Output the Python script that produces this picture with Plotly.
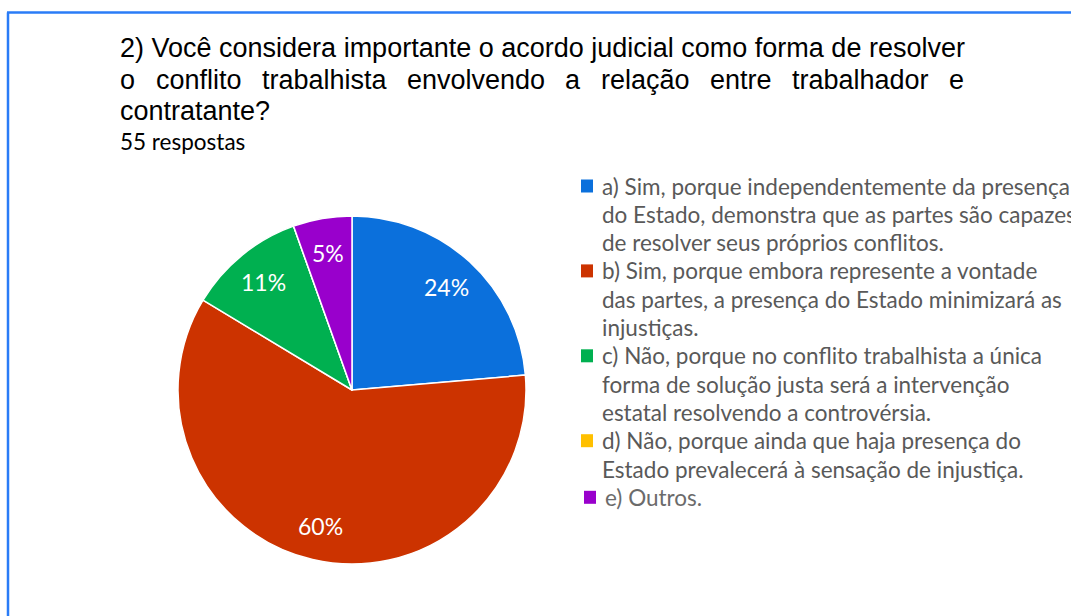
import math
import plotly.graph_objects as go

# ---------------- data ----------------
categories = [
    "a) Sim, porque independentemente da presença do Estado, demonstra que as partes são capazes de resolver seus próprios conflitos.",
    "b) Sim, porque embora represente a vontade das partes, a presença do Estado minimizará as injustiças.",
    "c) Não, porque no conflito trabalhista a única forma de solução justa será a intervenção estatal resolvendo a controvérsia.",
    "d) Não, porque ainda que haja presença do Estado prevalecerá à sensação de injustiça.",
    "e) Outros.",
]
legend_lines = [
    ["a) Sim, porque independentemente da presença", "do Estado, demonstra que as partes são capazes", "de resolver seus próprios conflitos."],
    ["b) Sim, porque embora represente a vontade", "das partes, a presença do Estado minimizará as", "injustiças."],
    ["c) Não, porque no conflito trabalhista a única", "forma de solução justa será a intervenção", "estatal resolvendo a controvérsia."],
    ["d) Não, porque ainda que haja presença do", "Estado prevalecerá à sensação de injustiça."],
    ["e) Outros."],
]
counts = [13, 33, 6, 0, 3]
colors = ["#0b70dc", "#cc3300", "#00b050", "#ffc000", "#9900cc"]
title_lines = [
    "2) Você considera importante o acordo judicial como forma de resolver",
    "o conflito trabalhista envolvendo a relação entre trabalhador e",
    "contratante?",
]
subtitle = "55 respostas"

# ---------------- layout helpers ----------------
W, H = 1071, 616
def px(x):
    return x / W
def py(y):
    return 1 - y / H

TITLE_FONT = "Liberation Sans, Arial, sans-serif"
TITLE_SIZE = 27
BODY_FONT = "Lato, Open Sans, sans-serif"

# Arial advance widths (per 1000 em) for justified line
AW = {"a": 556, "b": 556, "c": 500, "d": 556, "e": 556, "f": 278, "h": 556,
      "i": 222, "l": 222, "n": 556, "o": 556, "r": 333, "s": 500, "t": 278,
      "v": 500, "ç": 500, "ã": 556}

def word_w(w):
    return sum(AW.get(ch, 556) for ch in w) / 1000 * TITLE_SIZE

# pie geometry (pixels)
PIE_L, PIE_R, PIE_T, PIE_B = 178, 526, 216, 564
CX, CY = (PIE_L + PIE_R) / 2, (PIE_T + PIE_B) / 2
RAD = (PIE_R - PIE_L) / 2

fig = go.Figure()

fig.add_trace(go.Pie(
    labels=[c.split(")")[0] + ")" for c in categories],
    values=counts,
    sort=False,
    direction="clockwise",
    rotation=0,
    marker=dict(colors=colors, line=dict(color="white", width=1.5)),
    textinfo="none",
    domain=dict(x=[px(PIE_L), px(PIE_R)], y=[py(PIE_B), py(PIE_T)]),
    showlegend=False,
    hoverinfo="label+percent",
))

annotations = []
shapes = []

# percentage labels inside slices, positioned from the data
total = sum(counts)
cum = 0
for v in counts:
    if v > 0:
        mid = (cum + v / 2) / total * 2 * math.pi
        r = 0.8 * RAD
        lx = CX + r * math.sin(mid)
        ly = CY - r * math.cos(mid)
        annotations.append(dict(text=f"{round(100 * v / total)}%", x=px(lx), y=py(ly),
                                xref="paper", yref="paper", xanchor="center", yanchor="middle",
                                showarrow=False,
                                font=dict(family=BODY_FONT, size=23, color="white")))
    cum += v

# title lines
LEFT, RIGHT = 118, 962
title_y = [48, 80, 111]
tfont = dict(family=TITLE_FONT, size=TITLE_SIZE, color="#000000")
annotations.append(dict(text=title_lines[0], x=px(LEFT), y=py(title_y[0]), xref="paper", yref="paper",
                        xanchor="left", yanchor="middle", showarrow=False, font=tfont))
# justified second line
words = title_lines[1].split(" ")
wsum = sum(word_w(w) for w in words)
gap = (RIGHT - LEFT - wsum) / (len(words) - 1)
xpos = LEFT
for w in words:
    annotations.append(dict(text=w, x=px(xpos), y=py(title_y[1]), xref="paper", yref="paper",
                            xanchor="left", yanchor="middle", showarrow=False, font=tfont))
    xpos += word_w(w) + gap
annotations.append(dict(text=title_lines[2], x=px(LEFT), y=py(title_y[2]), xref="paper", yref="paper",
                        xanchor="left", yanchor="middle", showarrow=False, font=tfont))
annotations.append(dict(text=subtitle, x=px(LEFT), y=py(141), xref="paper", yref="paper",
                        xanchor="left", yanchor="middle", showarrow=False,
                        font=dict(family=BODY_FONT, size=22.5, color="#000000")))

# custom legend
LINE_H = 28.3
y0 = 186
k = 0
for i, lines in enumerate(legend_lines):
    is_last = i == len(legend_lines) - 1
    sq_x = 584 if is_last else 581
    tx_x = 603 if is_last else 600
    yc = y0 + LINE_H * k
    shapes.append(dict(type="rect", xref="paper", yref="paper",
                       x0=px(sq_x), x1=px(sq_x + 12), y0=py(yc - 6.5), y1=py(yc + 6.5),
                       fillcolor=colors[i], line=dict(width=0)))
    for ln in lines:
        yc = y0 + LINE_H * k
        annotations.append(dict(text=ln, x=px(tx_x), y=py(yc), xref="paper", yref="paper",
                                xanchor="left", yanchor="middle", showarrow=False,
                                font=dict(family=BODY_FONT, size=22.5,
                                          color="#6b6b6b" if is_last else "#595959")))
        k += 1

# frame lines (top and left)
shapes.append(dict(type="line", xref="paper", yref="paper", x0=px(7), x1=1, y0=py(12.5), y1=py(12.5),
                   line=dict(color="#2a7cf7", width=2.5)))
shapes.append(dict(type="line", xref="paper", yref="paper", x0=px(8), x1=px(8), y0=py(12.5), y1=0,
                   line=dict(color="#2a7cf7", width=2.5)))

fig.update_layout(
    width=W, height=H,
    margin=dict(l=0, r=0, t=0, b=0),
    paper_bgcolor="white", plot_bgcolor="white",
    annotations=annotations, shapes=shapes,
    showlegend=False,
)

fig.write_html("out.html", config={"displayModeBar": False},
               post_script="document.body.style.margin='0';document.body.style.overflow='hidden';")
